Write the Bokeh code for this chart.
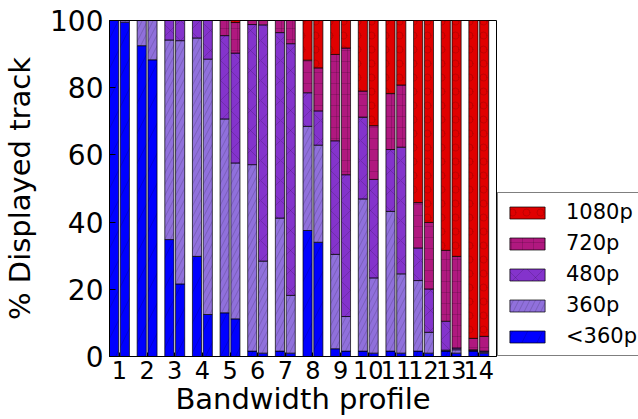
from bokeh.plotting import figure
from bokeh.layouts import row
from bokeh.models import (ColumnDataSource, Legend, LegendItem,
                          FixedTicker, Range1d)
from bokeh.embed import file_html
from bokeh.resources import INLINE

# Bandwidth profiles (x categories)
profiles = list(range(1, 15))

# Share of displayed track per resolution (%), first bar of each pair
lt360_a = [100.0, 92.5, 34.8, 29.8, 13.0, 1.6, 1.6, 37.5, 2.3, 1.6, 1.6, 1.6, 1.6, 1.6]
r360_a = [0.0, 7.5, 59.4, 65.0, 57.7, 55.5, 39.6, 31.0, 28.1, 45.3, 41.6, 21.0, 0.3, 0.2]
r480_a = [0.0, 0.0, 5.8, 5.2, 24.8, 41.7, 55.2, 10.0, 33.8, 24.3, 18.4, 9.7, 8.6, 0.2]
r720_a = [0.0, 0.0, 0.0, 0.0, 4.5, 1.2, 3.6, 9.7, 25.7, 7.8, 16.7, 13.5, 21.1, 3.4]
r1080_a = [0.0, 0.0, 0.0, 0.0, 0.0, 0.0, 0.0, 11.8, 10.1, 21.0, 21.7, 54.2, 68.4, 94.6]

# Second bar of each pair
lt360_b = [99.5, 88.3, 21.6, 12.5, 11.2, 1.0, 1.0, 34.0, 1.6, 1.0, 1.0, 1.0, 1.0, 1.0]
r360_b = [0.5, 11.7, 72.4, 76.0, 46.4, 27.4, 17.2, 28.9, 10.3, 22.4, 23.6, 6.2, 1.0, 0.3]
r480_b = [0.0, 0.0, 6.0, 11.5, 32.7, 70.3, 74.9, 10.2, 42.2, 29.3, 37.7, 12.9, 0.5, 0.3]
r720_b = [0.0, 0.0, 0.0, 0.0, 9.1, 1.3, 6.9, 12.8, 37.7, 16.0, 18.5, 19.8, 27.3, 4.4]
r1080_b = [0.0, 0.0, 0.0, 0.0, 0.6, 0.0, 0.0, 14.1, 8.2, 31.3, 19.2, 60.1, 70.2, 94.0]

labels = ["<360p", "360p", "480p", "720p", "1080p"]
y_ticks = [0, 20, 40, 60, 80, 100]

FONT = "DejaVu Sans"
keys = ["lt360", "r360", "r480", "r720", "r1080"]
colors = ["#0000FF", "#9070DC", "#8433CC", "#B0187F", "#E00000"]
hatches = ["/", "/", "x", "+", "o"]
hatch_scales = [30, 11, 20, 11, 14]
hatch_colors = ["black", "black", "black", "black", "#700000"]
hatch_alphas = [0.22, 0.22, 0.22, 0.22, 0.4]

offset = 0.195
bar_w = 0.33

src_a = ColumnDataSource(dict(x=[v - offset for v in profiles],
                              lt360=lt360_a, r360=r360_a, r480=r480_a,
                              r720=r720_a, r1080=r1080_a))
src_b = ColumnDataSource(dict(x=[v + offset for v in profiles],
                              lt360=lt360_b, r360=r360_b, r480=r480_b,
                              r720=r720_b, r1080=r1080_b))

p = figure(width=497, height=419, output_backend="svg", toolbar_location=None,
           x_range=Range1d(0.64, 14.64), y_range=Range1d(0, 100),
           min_border_left=106, min_border_right=1,
           min_border_top=20, min_border_bottom=63)
p.background_fill_color = "white"
p.border_fill_color = "white"
p.outline_line_color = "black"
p.outline_line_width = 1
p.xgrid.visible = False
p.ygrid.visible = False

style = dict(width=bar_w, fill_color=colors, hatch_pattern=hatches,
             hatch_scale=hatch_scales, hatch_color=hatch_colors,
             hatch_alpha=hatch_alphas, hatch_weight=0.7,
             line_color="black", line_alpha=0.7, line_width=1)
p.vbar_stack(keys, x="x", source=src_a, **style)
p.vbar_stack(keys, x="x", source=src_b, **style)

# axes
xa = p.xaxis[0]
xa.ticker = FixedTicker(ticks=profiles)
xa.axis_label = "Bandwidth profile"
xa.major_label_text_font_size = "24px"
xa.axis_label_text_font_size = "29px"
xa.major_tick_in = 4
xa.major_tick_out = 0
xa.minor_tick_line_color = None
xa.major_label_standoff = 4
xa.axis_label_standoff = 0

ya = p.yaxis[0]
ya.ticker = FixedTicker(ticks=y_ticks)
ya.axis_label = "% Displayed track"
ya.major_label_text_font_size = "28px"
ya.axis_label_text_font_size = "29px"
ya.major_tick_in = 6
ya.major_tick_out = 0
ya.minor_tick_line_color = None
ya.major_label_standoff = 6
ya.axis_label_standoff = 10

for ax in (xa, ya):
    ax.major_label_text_font = FONT
    ax.axis_label_text_font = FONT
    ax.axis_label_text_font_style = "normal"
    ax.major_label_text_color = "black"
    ax.axis_label_text_color = "black"
    ax.axis_line_color = "black"
    ax.major_tick_line_color = "black"

# legend panel to the right of the chart; its stack uses the same styling,
# with a view range that keeps the bars themselves out of sight
q = figure(width=141, height=419, output_backend="svg", toolbar_location=None,
           x_axis_location=None, y_axis_location=None, min_border=0,
           x_range=Range1d(-20, -19), y_range=Range1d(0, 100))
q.outline_line_color = None
q.grid.visible = False
q.background_fill_color = "white"
q.border_fill_color = "white"
swatches = q.vbar_stack(keys, x="x", source=src_a, **style)

# highest resolution on top
items = [LegendItem(label=labels[i], renderers=[swatches[i]]) for i in range(4, -1, -1)]
legend = Legend(items=items, location=(0, 0),
                label_text_font=FONT, label_text_font_size="21px",
                label_text_color="black",
                glyph_width=44, glyph_height=15, label_standoff=17,
                padding=7, spacing=7, margin=0,
                border_line_color="black", border_line_width=1,
                background_fill_color="white", background_fill_alpha=1)
q.add_layout(legend, "center")

open("out.html", "w").write(file_html(row(p, q), INLINE))
